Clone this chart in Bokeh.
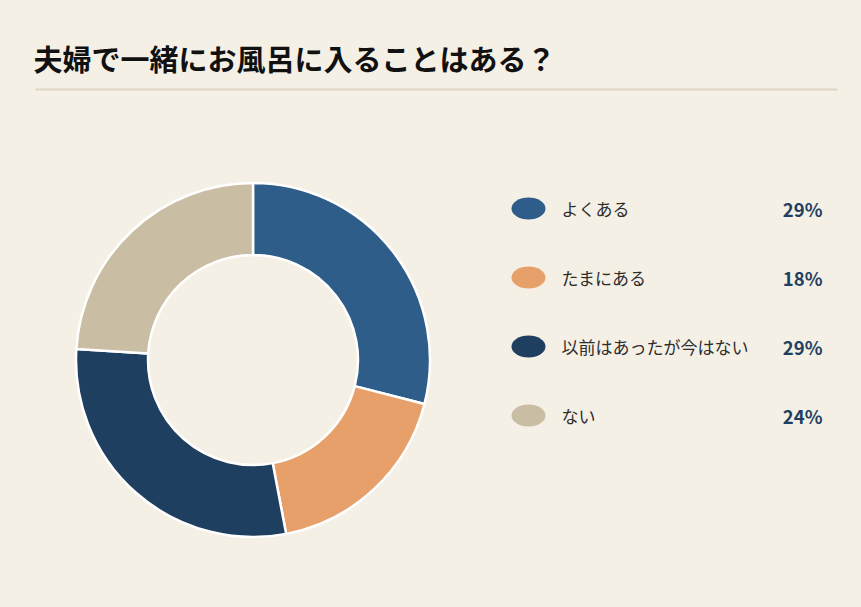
import math
from bokeh.plotting import figure
from bokeh.models import Range1d, ColumnDataSource
from bokeh.core.properties import value
from bokeh.embed import file_html
from bokeh.resources import INLINE

# ---- data ----
title_text = "夫婦で一緒にお風呂に入ることはある？"
categories = ["よくある", "たまにある", "以前はあったが今はない", "ない"]
percents = [29, 18, 29, 24]
colors = ["#2e5d8a", "#e8a06b", "#1f3f61", "#c9bda4"]

BG = "#f5f0e6"
W, H = 845, 591
FONT = "Noto Sans CJK JP"

def Y(page_y):
    return H - page_y

def X(page_x):
    return page_x

p = figure(width=W, height=H, output_backend="svg", toolbar_location=None,
           x_range=Range1d(0, W), y_range=Range1d(0, H), min_border=0,
           background_fill_color=BG, border_fill_color=BG, outline_line_color=None)
p.axis.visible = False
p.grid.visible = False

# title
p.text(x=[X(33)], y=[Y(57)], text=[title_text], text_font=value(FONT),
       text_font_style="bold", text_font_size="29px", text_color="#111111",
       text_baseline="middle", text_align="left")
# separator
p.segment(x0=[X(35)], y0=[Y(89)], x1=[X(837)], y1=[Y(89)],
          line_color="#ddd4c4", line_width=2)

# donut
total = sum(percents)
starts, ends = [], []
cum = 0
for v in percents:
    starts.append(math.pi / 2 - 2 * math.pi * cum / total)
    cum += v
    ends.append(math.pi / 2 - 2 * math.pi * cum / total)
src = ColumnDataSource(dict(start=starts, end=ends, color=colors))
p.annular_wedge(x=X(252.5), y=Y(359.5), inner_radius=105, outer_radius=177,
                inner_radius_units="screen", outer_radius_units="screen",
                start_angle="start", end_angle="end", direction="clock",
                fill_color="color", line_color="#ffffff", line_width=2.5, source=src)

# legend
ly = [Y(208 + 69 * i) for i in range(len(categories))]
p.ellipse(x=[X(528)] * len(categories), y=ly, width=34, height=22,
          width_units="screen", height_units="screen",
          fill_color=colors, line_color=None)
p.text(x=[X(561)] * len(categories), y=ly, text=categories, text_font=value(FONT),
       text_font_size="17px", text_color="#2d2d2d", text_baseline="middle",
       text_align="left")
p.text(x=[X(822)] * len(categories), y=ly, text=[f"{v}%" for v in percents],
       text_font=value(FONT), text_font_style="bold", text_font_size="18.5px",
       text_color="#1f3f61", text_baseline="middle", text_align="right")

html = file_html(p, INLINE)
html = html.replace("</head>", "<style>html,body{background:%s;}</style></head>" % BG)
open("out.html", "w").write(html)
